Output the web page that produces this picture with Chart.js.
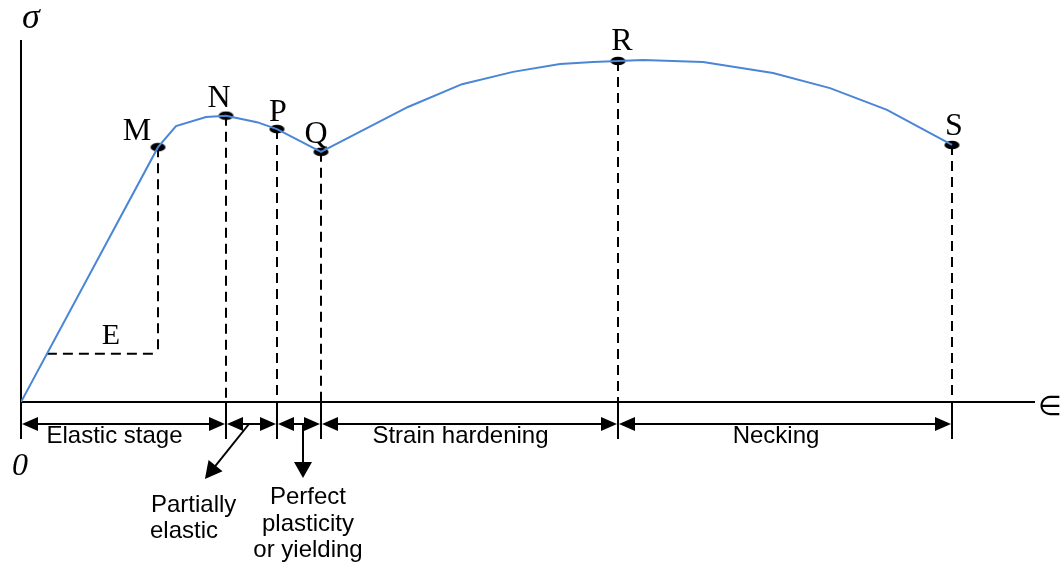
<!DOCTYPE html>
<html>
<head>
<meta charset="utf-8">
<script src="https://cdn.jsdelivr.net/npm/chart.js@4.4.1/dist/chart.umd.min.js"></script>
<style>
  body { margin: 0; background: #fff; }
  #wrap { width: 1064px; height: 564px; position: relative; }
</style>
</head>
<body>
<div id="wrap"><canvas id="chart"></canvas></div>
<script>
// stress-strain curve (arbitrary units)
const strain = [0, 13.7, 15.5, 18.5, 20.5, 23.6, 25.6, 30.0, 38.7, 44.1, 49.2, 53.9, 57.2, 59.7, 62.2, 68.2, 75.2, 80.9, 86.6, 93.1];
const stress = [0, 70.4, 76.2, 78.7, 79.1, 77.3, 75.4, 69.1, 81.5, 87.8, 91.2, 93.4, 93.9, 94.2, 94.5, 93.9, 90.9, 86.7, 80.7, 71.0];

// labelled points (index into the curve)
const keyNames = ["M", "N", "P", "Q", "R", "S"];
const keyIdx = [1, 4, 6, 7, 13, 19];

// stage bands between O, N, P, Q, R, S
const stageNames = ["Elastic stage", "", "", "Strain hardening", "Necking"];
const eStress = 13.3;

const BLUE = "#4a86d6";
const SERIF = "'Liberation Serif', 'Times New Roman', serif";
const SANS = "'Liberation Sans', Arial, sans-serif";

// black ellipse used as the point marker
const dot = document.createElement("canvas");
dot.width = 17; dot.height = 10;
(function () {
    const c = dot.getContext("2d");
    c.fillStyle = "#000";
    c.beginPath();
    c.ellipse(8.5, 5, 7.5, 4.3, 0, 0, Math.PI * 2);
    c.fill();
})();

function head(ctx, tx, ty, ang, len, half) {
    ctx.beginPath();
    ctx.moveTo(tx, ty);
    ctx.lineTo(tx - len * Math.cos(ang) - half * Math.sin(ang), ty - len * Math.sin(ang) + half * Math.cos(ang));
    ctx.lineTo(tx - len * Math.cos(ang) + half * Math.sin(ang), ty - len * Math.sin(ang) - half * Math.cos(ang));
    ctx.closePath();
    ctx.fill();
}

const labelOffsets = { M: [-21, -7], N: [-7, -9], P: [1, -8], Q: [-5, -9], R: [4, -11], S: [2, -10] };

const diagram = {
    id: "diagram",
    beforeDatasetsDraw(chart) {
        const ctx = chart.ctx;
        const xs = chart.scales.x, ys = chart.scales.y;
        const a = chart.chartArea;
        ctx.save();
        ctx.strokeStyle = "#000";
        ctx.lineWidth = 2;

        // axes
        ctx.beginPath();
        ctx.moveTo(a.left, a.top);
        ctx.lineTo(a.left, a.bottom);
        ctx.lineTo(a.right, a.bottom);
        ctx.stroke();

        // dashed drop lines
        ctx.setLineDash([10, 6]);
        keyIdx.forEach((k, i) => {
            const x = xs.getPixelForValue(strain[k]);
            const y = ys.getPixelForValue(stress[k]);
            const yEnd = keyNames[i] === "M" ? ys.getPixelForValue(eStress) : a.bottom;
            ctx.beginPath();
            ctx.moveTo(x, y);
            ctx.lineTo(x, yEnd);
            ctx.stroke();
        });
        // E slope triangle
        const eStart = strain[1] * eStress / stress[1];
        ctx.beginPath();
        ctx.moveTo(xs.getPixelForValue(eStart), ys.getPixelForValue(eStress));
        ctx.lineTo(xs.getPixelForValue(strain[1]), ys.getPixelForValue(eStress));
        ctx.stroke();
        ctx.restore();
    },
    afterDatasetsDraw(chart) {
        const ctx = chart.ctx;
        const xs = chart.scales.x, ys = chart.scales.y;
        const a = chart.chartArea;
        ctx.save();
        ctx.fillStyle = "#000";
        ctx.strokeStyle = "#000";
        ctx.lineWidth = 2;

        // point labels
        ctx.font = "32px " + SERIF;
        ctx.textAlign = "center";
        ctx.textBaseline = "alphabetic";
        keyIdx.forEach((k, i) => {
            const off = labelOffsets[keyNames[i]];
            ctx.fillText(keyNames[i], xs.getPixelForValue(strain[k]) + off[0], ys.getPixelForValue(stress[k]) + off[1]);
        });
        ctx.font = "30px " + SERIF;
        ctx.fillText("E", xs.getPixelForValue(9.0), ys.getPixelForValue(eStress) - 10);

        // axis symbols
        ctx.font = "italic 36px " + SERIF;
        ctx.fillText("σ", a.left + 10, 28);
        ctx.font = "italic 32px " + SERIF;
        ctx.fillText("0", a.left - 1, 475);
        ctx.font = "27px 'DejaVu Sans', sans-serif";
        ctx.textBaseline = "middle";
        ctx.fillText("∈", 1050, a.bottom + 6);

        // stage dimension arrows
        const bounds = [0].concat(keyIdx.slice(1).map(k => strain[k]));
        const yArr = a.bottom + 22;
        bounds.forEach(b => {
            const x = xs.getPixelForValue(b);
            ctx.beginPath();
            ctx.moveTo(x, a.bottom);
            ctx.lineTo(x, a.bottom + 37);
            ctx.stroke();
        });
        ctx.font = "24px " + SANS;
        ctx.textAlign = "center";
        for (let i = 0; i < bounds.length - 1; i++) {
            const x0 = xs.getPixelForValue(bounds[i]);
            const x1 = xs.getPixelForValue(bounds[i + 1]);
            ctx.beginPath();
            ctx.moveTo(x0 + 10, yArr);
            ctx.lineTo(x1 - 10, yArr);
            ctx.stroke();
            head(ctx, x0 + 1, yArr, Math.PI, 16, 7);
            head(ctx, x1 - 1, yArr, 0, 16, 7);
            if (stageNames[i]) ctx.fillText(stageNames[i], (x0 + x1) / 2 - 9, yArr + 12);
        }

        // leaders for the two narrow stages
        const pe0 = xs.getPixelForValue(bounds[1]), pe1 = xs.getPixelForValue(bounds[2]);
        const sx = pe0 + (pe1 - pe0) * 0.45, tx = sx - 44, ty = yArr + 55;
        const ang = Math.atan2(ty - yArr, tx - sx);
        ctx.beginPath();
        ctx.moveTo(sx, yArr);
        ctx.lineTo(tx - 12 * Math.cos(ang), ty - 12 * Math.sin(ang));
        ctx.stroke();
        head(ctx, tx, ty, ang, 17, 9);

        const py0 = xs.getPixelForValue(bounds[2]), py1 = xs.getPixelForValue(bounds[3]);
        const dx = (py0 + py1) / 2 + 4;
        ctx.beginPath();
        ctx.moveTo(dx, yArr);
        ctx.lineTo(dx, yArr + 42);
        ctx.stroke();
        head(ctx, dx, yArr + 54, Math.PI / 2, 16, 9);

        ctx.textAlign = "left";
        ctx.fillText("Partially", 151, 505);
        ctx.fillText("elastic", 150, 531);
        ctx.textAlign = "center";
        ctx.fillText("Perfect", 308, 497);
        ctx.fillText("plasticity", 308, 524);
        ctx.fillText("or yielding", 308, 550);
        ctx.restore();
    }
};

new Chart(document.getElementById("chart"), {
    type: "scatter",
    data: {
        datasets: [
            {
                data: strain.map((s, i) => ({ x: s, y: stress[i] })),
                showLine: true,
                borderColor: BLUE,
                borderWidth: 2,
                pointRadius: 0,
                tension: 0
            },
            {
                data: keyIdx.map(k => ({ x: strain[k], y: stress[k] })),
                pointStyle: dot,
                showLine: false
            }
        ]
    },
    options: {
        responsive: true,
        maintainAspectRatio: false,
        animation: false,
        layout: { padding: { left: 21, right: 29, top: 40, bottom: 162 } },
        scales: {
            x: { type: "linear", min: 0, max: 101.4, display: false },
            y: { min: 0, max: 100, display: false }
        },
        plugins: {
            legend: { display: false },
            tooltip: { enabled: false }
        }
    },
    plugins: [diagram]
});
</script>
</body>
</html>
